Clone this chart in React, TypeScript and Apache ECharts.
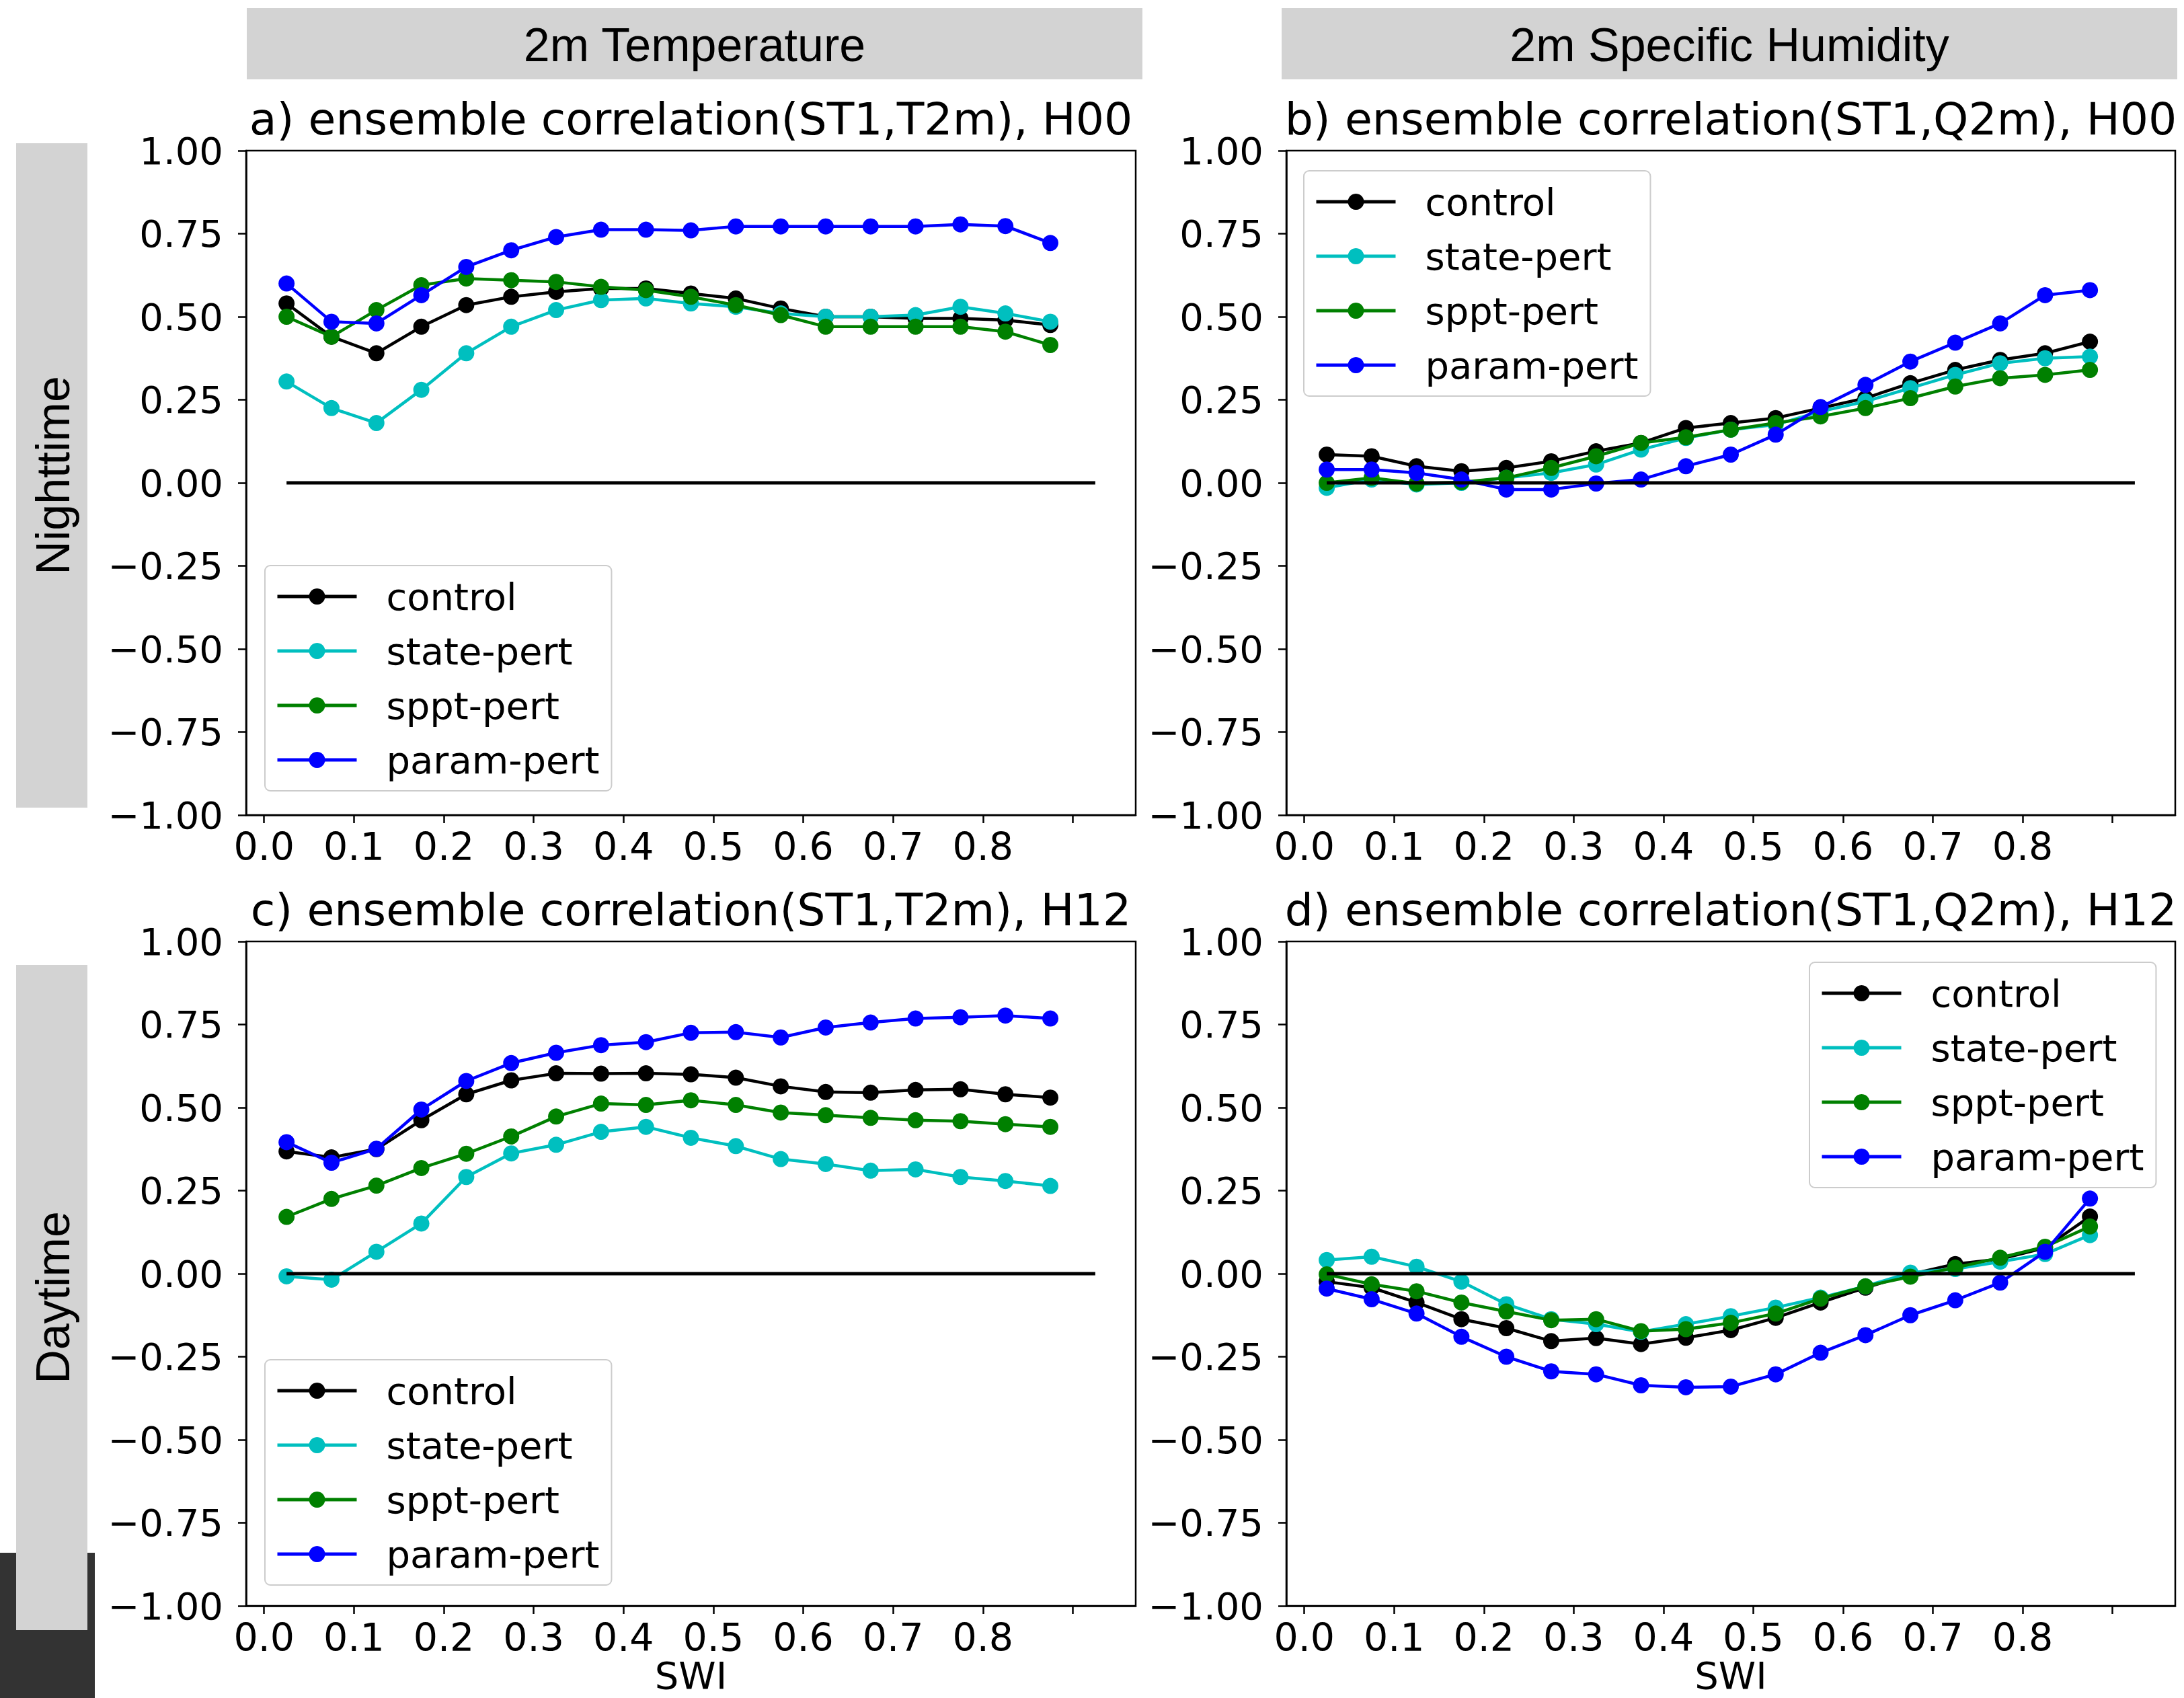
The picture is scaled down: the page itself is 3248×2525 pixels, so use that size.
import React, { useEffect, useRef } from "react";
import * as echarts from "echarts";

const SWI = [0.025, 0.075, 0.125, 0.175, 0.225, 0.275, 0.325, 0.375, 0.425, 0.475, 0.525, 0.575, 0.625, 0.675, 0.725, 0.775, 0.825, 0.875];
const SERIES_NAMES = ["control", "state-pert", "sppt-pert", "param-pert"];
const SERIES_COLORS = ["#000000", "#00bfbf", "#008000", "#0000ff"];

const A_CONTROL = [0.54, 0.44, 0.39, 0.47, 0.535, 0.56, 0.575, 0.585, 0.585, 0.57, 0.555, 0.525, 0.5, 0.5, 0.495, 0.495, 0.49, 0.475];
const A_STATE = [0.305, 0.225, 0.18, 0.28, 0.39, 0.47, 0.52, 0.55, 0.555, 0.54, 0.53, 0.51, 0.5, 0.5, 0.505, 0.53, 0.51, 0.485];
const A_SPPT = [0.5, 0.44, 0.52, 0.595, 0.615, 0.61, 0.605, 0.59, 0.58, 0.56, 0.535, 0.505, 0.47, 0.47, 0.47, 0.47, 0.455, 0.415];
const A_PARAM = [0.6, 0.485, 0.48, 0.565, 0.65, 0.7, 0.74, 0.762, 0.762, 0.76, 0.772, 0.772, 0.772, 0.772, 0.772, 0.778, 0.773, 0.722];

const B_CONTROL = [0.085, 0.08, 0.05, 0.035, 0.045, 0.065, 0.095, 0.12, 0.165, 0.18, 0.195, 0.225, 0.255, 0.3, 0.34, 0.37, 0.39, 0.425];
const B_STATE = [-0.015, 0.01, -0.005, 0.0, 0.015, 0.03, 0.055, 0.1, 0.135, 0.16, 0.175, 0.215, 0.245, 0.285, 0.325, 0.36, 0.375, 0.38];
const B_SPPT = [0.0, 0.015, -0.002, 0.002, 0.015, 0.045, 0.08, 0.12, 0.137, 0.16, 0.18, 0.2, 0.225, 0.255, 0.29, 0.315, 0.325, 0.34];
const B_PARAM = [0.04, 0.04, 0.03, 0.01, -0.02, -0.02, -0.002, 0.01, 0.05, 0.085, 0.145, 0.228, 0.295, 0.365, 0.422, 0.48, 0.565, 0.58];

const C_CONTROL = [0.368, 0.35, 0.375, 0.462, 0.54, 0.582, 0.603, 0.602, 0.603, 0.6, 0.59, 0.564, 0.547, 0.545, 0.553, 0.555, 0.54, 0.53];
const C_STATE = [-0.008, -0.018, 0.066, 0.151, 0.291, 0.362, 0.388, 0.427, 0.442, 0.409, 0.384, 0.345, 0.33, 0.31, 0.314, 0.291, 0.279, 0.264];
const C_SPPT = [0.171, 0.225, 0.265, 0.318, 0.361, 0.413, 0.473, 0.512, 0.508, 0.522, 0.508, 0.485, 0.477, 0.469, 0.462, 0.459, 0.45, 0.442];
const C_PARAM = [0.396, 0.334, 0.376, 0.494, 0.58, 0.634, 0.665, 0.688, 0.697, 0.725, 0.727, 0.711, 0.741, 0.756, 0.768, 0.772, 0.777, 0.768];

const D_CONTROL = [-0.024, -0.042, -0.087, -0.137, -0.164, -0.203, -0.194, -0.212, -0.193, -0.17, -0.133, -0.087, -0.042, -0.002, 0.029, 0.044, 0.078, 0.172];
const D_STATE = [0.041, 0.051, 0.021, -0.024, -0.092, -0.137, -0.152, -0.175, -0.152, -0.128, -0.102, -0.072, -0.038, 0.003, 0.014, 0.036, 0.059, 0.116];
const D_SPPT = [-0.002, -0.032, -0.053, -0.087, -0.114, -0.14, -0.137, -0.173, -0.167, -0.148, -0.12, -0.075, -0.038, -0.009, 0.018, 0.048, 0.081, 0.142];
const D_PARAM = [-0.045, -0.077, -0.12, -0.19, -0.25, -0.294, -0.303, -0.336, -0.342, -0.34, -0.303, -0.238, -0.185, -0.125, -0.08, -0.027, 0.066, 0.226];

const ZERO_LINE_X = [0.025, 0.925];
const X_TICKS = [0, 0.1, 0.2, 0.3, 0.4, 0.5, 0.6, 0.7, 0.8, 0.9];
const X_LABELS = [0, 0.1, 0.2, 0.3, 0.4, 0.5, 0.6, 0.7, 0.8];

const PANEL_TITLES = [
  "a) ensemble correlation(ST1,T2m), H00",
  "b) ensemble correlation(ST1,Q2m), H00",
  "c) ensemble correlation(ST1,T2m), H12",
  "d) ensemble correlation(ST1,Q2m), H12",
];
const COLUMN_HEADERS = ["2m Temperature", "2m Specific Humidity"];
const ROW_HEADERS = ["Nighttime", "Daytime"];
const X_NAME = "SWI";

const PANEL_DATA = [
  [A_CONTROL, A_STATE, A_SPPT, A_PARAM],
  [B_CONTROL, B_STATE, B_SPPT, B_PARAM],
  [C_CONTROL, C_STATE, C_SPPT, C_PARAM],
  [D_CONTROL, D_STATE, D_SPPT, D_PARAM],
];

// layout (pixels)
const GRIDS = [
  { left: 366, top: 224, width: 1323, height: 988 },
  { left: 1913, top: 224, width: 1322, height: 988 },
  { left: 366, top: 1400, width: 1323, height: 988 },
  { left: 1913, top: 1400, width: 1322, height: 988 },
];
const LEGEND_POS = [
  { left: 394, top: 841 },
  { left: 1939, top: 254 },
  { left: 394, top: 2022 },
  { left: 2691, top: 1431 },
];

const FONT = "DejaVu Sans";
const HFONT = "Liberation Sans";

function fmtY(v: number) {
  const s = Math.abs(v).toFixed(2);
  return v < 0 ? "\u2212" + s : s;
}

export default function App() {
  const ref = useRef<HTMLDivElement>(null);
  useEffect(() => {
    document.body.style.margin = "0";
    if (!ref.current) return;
    const chart = echarts.init(ref.current, undefined, { renderer: "svg" });

    const grid = GRIDS.map((g) => ({
      ...g,
      show: true,
      borderColor: "#000",
      borderWidth: 2.5,
      backgroundColor: "#fff",
      containLabel: false,
    }));

    const xAxis = GRIDS.map((_, i) => ({
      type: "value",
      gridIndex: i,
      min: -0.02,
      max: 0.97,
      name: i >= 2 ? X_NAME : "",
      nameLocation: "middle",
      nameGap: 68,
      nameTextStyle: { fontFamily: FONT, fontSize: 56, color: "#000", lineHeight: 56 },
      axisLine: { show: true, onZero: false, lineStyle: { color: "#000", width: 2.5 } },
      axisTick: { show: true, inside: false, length: 12, customValues: X_TICKS, lineStyle: { color: "#000", width: 2.5 } },
      axisLabel: {
        show: true,
        customValues: X_LABELS,
        formatter: (v: number) => v.toFixed(1),
        fontFamily: FONT,
        fontSize: 57,
        color: "#000",
        margin: 18,
      },
      splitLine: { show: false },
    }));

    const yAxis = GRIDS.map((_, i) => ({
      type: "value",
      gridIndex: i,
      min: -1,
      max: 1,
      interval: 0.25,
      axisLine: { show: true, onZero: false, lineStyle: { color: "#000", width: 2.5 } },
      axisTick: { show: true, inside: false, length: 12, lineStyle: { color: "#000", width: 2.5 } },
      axisLabel: {
        formatter: (v: number) => fmtY(v),
        fontFamily: FONT,
        fontSize: 56,
        color: "#000",
        margin: 34,
      },
      splitLine: { show: false },
    }));

    const series: any[] = [];
    PANEL_DATA.forEach((panel, p) => {
      panel.forEach((vals, s) => {
        series.push({
          type: "line",
          name: SERIES_NAMES[s],
          xAxisIndex: p,
          yAxisIndex: p,
          data: SWI.map((x, k) => [x, vals[k]]),
          symbol: "circle",
          symbolSize: 24,
          showSymbol: true,
          color: SERIES_COLORS[s],
          itemStyle: { color: SERIES_COLORS[s] },
          lineStyle: { color: SERIES_COLORS[s], width: 4.5 },
          z: 2 + s,
        });
      });
      series.push({
        type: "line",
        name: "zero",
        xAxisIndex: p,
        yAxisIndex: p,
        data: ZERO_LINE_X.map((x) => [x, 0]),
        showSymbol: false,
        symbol: "none",
        lineStyle: { color: "#000", width: 5 },
        itemStyle: { color: "#000" },
        z: 10,
        silent: true,
      });
    });

    const legend = LEGEND_POS.map((pos) => ({
      ...pos,
      orient: "vertical",
      data: SERIES_NAMES,
      itemWidth: 118,
      itemHeight: 30,
      itemGap: 21,
      padding: [16, 18, 16, 16],
      backgroundColor: "rgba(255,255,255,0.8)",
      borderColor: "#cccccc",
      borderWidth: 2,
      borderRadius: 8,
      selectedMode: false,
      lineStyle: { width: 5 },
      textStyle: {
        fontFamily: FONT,
        fontSize: 56,
        color: "#000",
        lineHeight: 60,
        padding: [0, 0, 0, 39],
      },
    }));

    const graphic: any[] = [];
    const colBoxes = [
      { x: 367, w: 1332 },
      { x: 1906, w: 1332 },
    ];
    colBoxes.forEach((b, i) => {
      graphic.push({
        type: "rect",
        shape: { x: b.x, y: 12, width: b.w, height: 106 },
        style: { fill: "#d3d3d3" },
        z: 1,
      });
      graphic.push({
        type: "text",
        x: b.x + b.w / 2,
        y: 67,
        style: {
          text: COLUMN_HEADERS[i],
          font: `70px "${HFONT}"`,
          fill: "#000",
          align: "center",
          verticalAlign: "middle",
        },
        z: 2,
      });
    });
    graphic.push({
      type: "rect",
      shape: { x: 0, y: 2309, width: 141, height: 216 },
      style: { fill: "#333333" },
      z: 1,
    });
    const rowBoxes = [
      { y: 213, h: 988 },
      { y: 1435, h: 989 },
    ];
    rowBoxes.forEach((b, i) => {
      graphic.push({
        type: "rect",
        shape: { x: 24, y: b.y, width: 106, height: b.h },
        style: { fill: "#d3d3d3" },
        z: 2,
      });
      graphic.push({
        type: "text",
        x: 79,
        y: b.y + b.h / 2,
        rotation: Math.PI / 2,
        style: {
          text: ROW_HEADERS[i],
          font: `70px "${HFONT}"`,
          fill: "#000",
          align: "center",
          verticalAlign: "middle",
        },
        z: 3,
      });
    });
    GRIDS.forEach((g, i) => {
      graphic.push({
        type: "text",
        x: g.left + g.width / 2,
        y: g.top - 47,
        style: {
          text: PANEL_TITLES[i],
          font: `66.5px "${FONT}"`,
          fill: "#000",
          align: "center",
          verticalAlign: "middle",
        },
        z: 3,
      });
    });

    chart.setOption({
      animation: false,
      backgroundColor: "#ffffff",
      grid,
      xAxis,
      yAxis,
      legend,
      series,
      graphic,
    } as any);

    return () => chart.dispose();
  }, []);

  return <div ref={ref} style={{ width: 3248, height: 2525 }} />;
}
